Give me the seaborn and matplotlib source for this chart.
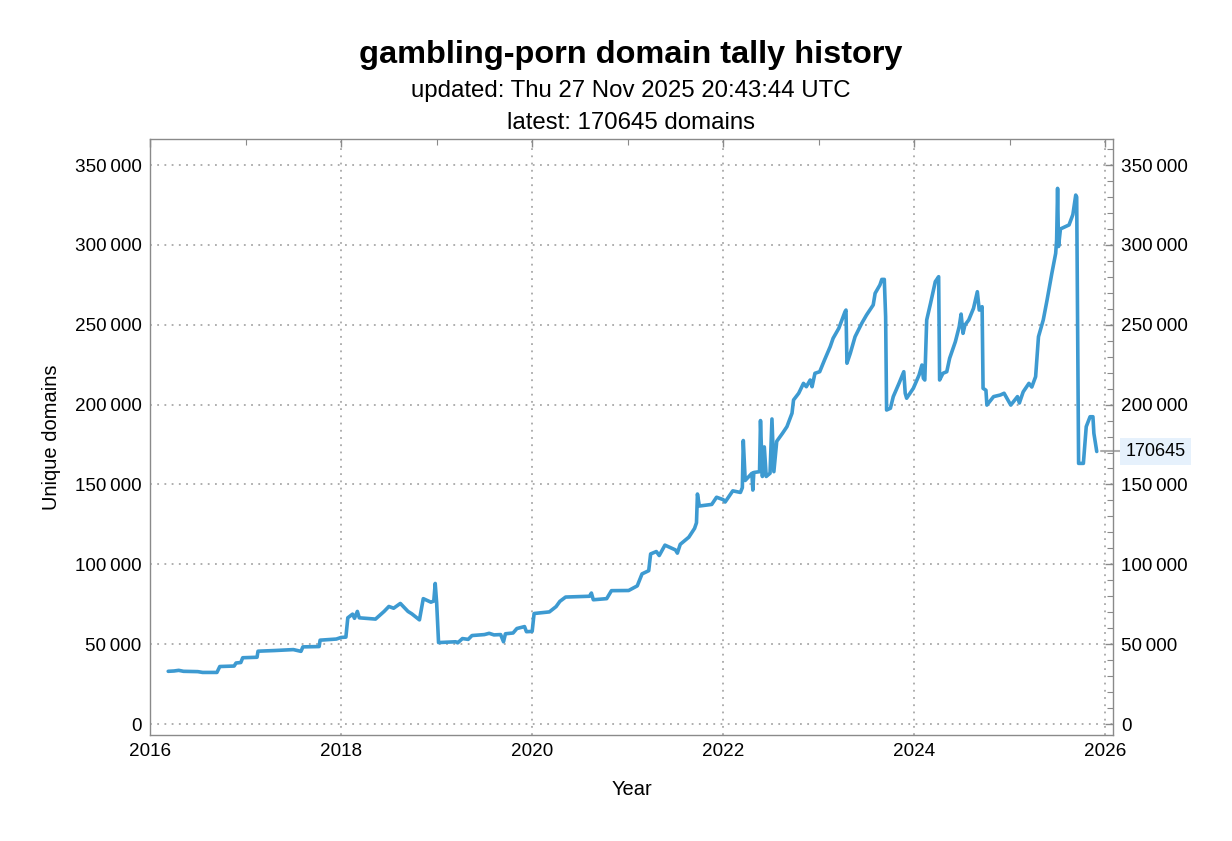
import matplotlib
matplotlib.use("Agg")
import matplotlib.pyplot as plt
import matplotlib.transforms as mtransforms
from matplotlib.ticker import MultipleLocator, FuncFormatter
import seaborn as sns
import pandas as pd

# values
years = [
    2016.19, 2016.25, 2016.30, 2016.35, 2016.50, 2016.55, 2016.70, 2016.73, 2016.88, 2016.90,
    2016.95, 2016.97, 2017.12, 2017.13, 2017.30, 2017.50, 2017.58, 2017.60, 2017.77, 2017.78,
    2017.95, 2018.00, 2018.05, 2018.07, 2018.12, 2018.14, 2018.17, 2018.19, 2018.30, 2018.36,
    2018.45, 2018.50, 2018.55, 2018.62, 2018.70, 2018.74, 2018.82, 2018.86, 2018.94, 2018.97,
    2018.985, 2019.00, 2019.02, 2019.20, 2019.22, 2019.27, 2019.33, 2019.37, 2019.50, 2019.55,
    2019.60, 2019.67, 2019.70, 2019.72, 2019.80, 2019.84, 2019.92, 2019.94, 2020.00, 2020.02,
    2020.18, 2020.25, 2020.29, 2020.35, 2020.60, 2020.62, 2020.64, 2020.78, 2020.83, 2021.01,
    2021.10, 2021.15, 2021.22, 2021.24, 2021.30, 2021.33, 2021.39, 2021.50, 2021.52, 2021.55,
    2021.64, 2021.70, 2021.72, 2021.73, 2021.75, 2021.88, 2021.93, 2022.00, 2022.02, 2022.10,
    2022.18, 2022.20, 2022.21, 2022.23, 2022.30, 2022.31, 2022.32, 2022.38, 2022.39, 2022.41,
    2022.43, 2022.45, 2022.49, 2022.51, 2022.53, 2022.56, 2022.62, 2022.667, 2022.72, 2022.736,
    2022.79, 2022.84, 2022.87, 2022.91, 2022.93, 2022.96, 2023.01, 2023.06, 2023.12, 2023.15,
    2023.21, 2023.275, 2023.285, 2023.295, 2023.33, 2023.38, 2023.45, 2023.50, 2023.57, 2023.59,
    2023.64, 2023.66, 2023.686, 2023.70, 2023.71, 2023.75, 2023.78, 2023.84, 2023.89, 2023.905,
    2023.92, 2023.99, 2024.05, 2024.08, 2024.095, 2024.11, 2024.13, 2024.17, 2024.22, 2024.255,
    2024.265, 2024.30, 2024.34, 2024.37, 2024.43, 2024.47, 2024.49, 2024.51, 2024.53, 2024.57,
    2024.62, 2024.66, 2024.68, 2024.71, 2024.72, 2024.75, 2024.76, 2024.83, 2024.90, 2024.94,
    2025.01, 2025.08, 2025.10, 2025.14, 2025.20, 2025.23, 2025.27, 2025.30, 2025.35, 2025.39,
    2025.44, 2025.48, 2025.49, 2025.50, 2025.51, 2025.53, 2025.62, 2025.66, 2025.69, 2025.70,
    2025.72, 2025.77, 2025.80, 2025.84, 2025.87, 2025.88, 2025.91,
]
domains = [
    33000, 33200, 33600, 33000, 32800, 32300, 32300, 36000, 36300, 38200,
    38500, 41500, 41800, 45600, 46000, 46600, 45500, 48300, 48500, 52500,
    53200, 54200, 54400, 66500, 68800, 66200, 70500, 66500, 66000, 65700,
    70500, 73600, 72500, 75500, 70500, 69000, 65200, 78500, 76300, 77000,
    88000, 76000, 51000, 51500, 50800, 53500, 53000, 55400, 56000, 56800,
    55800, 56000, 51500, 56500, 57000, 59800, 61000, 57800, 58000, 69200,
    70200, 73500, 76800, 79500, 80000, 82000, 77800, 78500, 83500, 83600,
    86500, 94000, 96000, 106500, 108000, 105500, 112000, 109000, 107000, 112500,
    117000, 122500, 126000, 144000, 136500, 137500, 142000, 140500, 139000, 146000,
    145000, 148000, 177500, 152500, 157000, 146500, 157500, 158000, 190000, 155000,
    173500, 155000, 157000, 191000, 158000, 177000, 182000, 186200, 194600, 202900,
    207100, 213300, 211200, 215400, 211200, 219600, 220600, 227900, 236300, 241500,
    247800, 258200, 259200, 225900, 232100, 242500, 250900, 256100, 262400, 269700,
    274900, 278400, 278400, 255000, 196600, 197700, 205000, 213300, 220600, 207100,
    204000, 210200, 218500, 224800, 216500, 215400, 253000, 263400, 277000, 280100,
    215400, 219600, 220600, 229000, 239400, 248800, 256700, 244600, 249800, 253000,
    260300, 270700, 259200, 261300, 210200, 209000, 199700, 205000, 206000, 207100,
    199700, 205000, 201000, 208000, 213300, 211000, 217500, 242500, 253000, 265500,
    282200, 294700, 303000, 335400, 299000, 310000, 312500, 319000, 331200, 330000,
    163200, 163200, 186200, 192400, 192400, 182000, 170645,
]
latest = 170645
title = "gambling-porn domain tally history"
subtitle = "updated: Thu 27 Nov 2025 20:43:44 UTC"
subtitle2 = "latest: 170645 domains"

sns.set_style("white")
plt.rcParams['font.family'] = ['Liberation Sans', 'DejaVu Sans']
plt.rcParams['text.color'] = 'black'
plt.rcParams['axes.labelcolor'] = 'black'
plt.rcParams['xtick.labelcolor'] = 'black'
plt.rcParams['ytick.labelcolor'] = 'black'

df = pd.DataFrame({'Year': years, 'Unique domains': domains})

fig = plt.figure(figsize=(12.32, 8.41), dpi=100)
ax = fig.add_axes([0.1218, 0.126, 0.7816, 0.7087])

line_color = '#3d9ad1'
sns.lineplot(data=df, x='Year', y='Unique domains', ax=ax, color=line_color,
             linewidth=2.6, estimator=None, sort=False)

ax.set_xlim(2016, 2026.08)
ax.set_ylim(-6900, 366300)

frame_color = '#8a8a8a'
for side in ax.spines.values():
    side.set_color(frame_color)
    side.set_linewidth(1.0)

ax.xaxis.set_major_locator(MultipleLocator(2))
ax.xaxis.set_minor_locator(MultipleLocator(1))
ax.yaxis.set_major_locator(MultipleLocator(50000))
ax.yaxis.set_minor_locator(MultipleLocator(10000))
ax.yaxis.set_major_formatter(FuncFormatter(
    lambda v, p: f"{int(v):,}".replace(",", "\u2009")))
ax.xaxis.set_major_formatter(FuncFormatter(lambda v, p: f"{int(round(v))}"))

ax.tick_params(which='both', direction='in', color=frame_color,
               top=True, right=True, labelright=True, labelsize=13.6, pad=6)
ax.tick_params(which='major', length=6, width=1.0)
ax.tick_params(which='minor', length=4, width=0.8)

ax.grid(True, which='major', color='#a8a8a8', linestyle=(0, (1, 3)), linewidth=1.3)
ax.set_axisbelow(True)

ax.set_xlabel('Year', fontsize=14.5, labelpad=14)
ax.set_ylabel('Unique domains', fontsize=14.5, labelpad=10)

# callout for the latest value on the right edge
trans = mtransforms.blended_transform_factory(ax.transAxes, ax.transData)
ax.plot([0.988, 1.008], [latest, latest], transform=trans, color='#999999',
        linewidth=1.5, alpha=0.8, clip_on=False)
ax.text(1.013, latest, str(latest), transform=trans, fontsize=13, va='center',
        ha='left', bbox=dict(boxstyle='square,pad=0.3', facecolor='#e6f1fc',
                             edgecolor='none'))

fig.text(0.512, 0.935, title, ha='center', va='center', fontsize=23.4, fontweight='bold')
fig.text(0.512, 0.892, subtitle, ha='center', va='center', fontsize=17.3)
fig.text(0.512, 0.854, subtitle2, ha='center', va='center', fontsize=17.3)

fig.savefig('out.png', dpi=100)
